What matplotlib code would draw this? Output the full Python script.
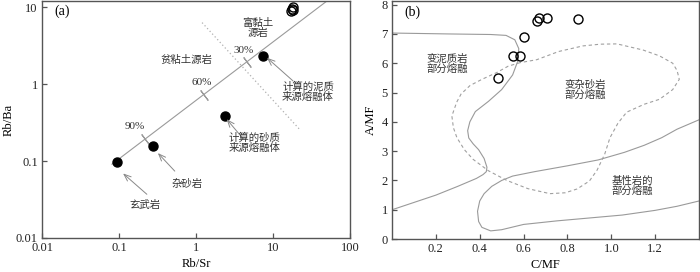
import matplotlib.pyplot as plt
import numpy as np

plt.rcParams['font.family'] = ['Liberation Serif', 'Noto Sans CJK SC']
plt.rcParams['axes.unicode_minus'] = False

# --- (a) Rb/Sr vs Rb/Ba ---
rbsr_fill = [0.094, 0.275, 2.35, 7.4]
rbba_fill = [0.098, 0.155, 0.38, 2.3]
rbsr_open = [17.2, 17.6, 18.0, 18.3]
rbba_open = [8.9, 9.5, 10.2, 9.2]

mix_x = [0.081, 50]
mix_y = [0.091, 12]
pct_x = [0.22, 1.27, 4.6]
pct_y = [0.195, 0.72, 1.95]
pct_lab = ['90%', '60%', '30%']
div_x = [1.2, 22]
div_y = [6.3, 0.26]

# --- (b) C/MF vs A/MF ---
cmf = [0.483, 0.552, 0.584, 0.602, 0.661, 0.67, 0.707, 0.848]
amf = [5.48, 6.25, 6.25, 6.89, 7.43, 7.53, 7.53, 7.5]

pel_x = [0.0, 0.25, 0.45, 0.52, 0.56, 0.578, 0.575, 0.55, 0.5, 0.44, 0.38, 0.355, 0.345,
         0.35, 0.37, 0.395, 0.42, 0.433, 0.43, 0.415, 0.385, 0.3, 0.2, 0.1, 0.0]
pel_y = [7.03, 7.0, 6.98, 6.95, 6.8, 6.5, 6.1, 5.6, 5.1, 4.7, 4.35, 4.0, 3.7,
         3.45, 3.25, 3.05, 2.75, 2.45, 2.3, 2.2, 2.07, 1.8, 1.5, 1.25, 1.0]

bas_x = [1.4, 1.3, 1.23, 1.15, 1.06, 0.94, 0.8, 0.65, 0.55, 0.5, 0.455, 0.42, 0.4, 0.39,
         0.395, 0.41, 0.45, 0.5, 0.6, 0.75, 0.9, 1.05, 1.2, 1.3, 1.4]
bas_y = [4.07, 3.75, 3.46, 3.2, 2.96, 2.7, 2.5, 2.3, 2.15, 2.0, 1.8, 1.55, 1.3, 0.95,
         0.6, 0.4, 0.28, 0.32, 0.5, 0.62, 0.72, 0.82, 0.98, 1.12, 1.3]

gw_x = [0.584, 0.53, 0.477, 0.41, 0.356, 0.315, 0.295, 0.273, 0.28, 0.296, 0.33, 0.37, 0.44,
        0.524, 0.62, 0.72, 0.79, 0.844, 0.9, 0.935, 0.97, 0.994, 1.03, 1.07, 1.15, 1.22,
        1.28, 1.31, 1.3, 1.28, 1.22, 1.145, 1.026, 0.95, 0.87, 0.76, 0.66, 0.584]
gw_y = [6.02, 5.9, 5.68, 5.45, 5.24, 4.95, 4.67, 4.2, 3.8, 3.46, 3.05, 2.72, 2.33,
        2.0, 1.72, 1.55, 1.58, 1.71, 1.98, 2.35, 2.9, 3.46, 3.95, 4.33, 4.6, 4.77,
        5.1, 5.45, 5.75, 6.0, 6.25, 6.45, 6.66, 6.65, 6.59, 6.4, 6.12, 6.02]

spine_c = '#555555'
line_c = '#9a9a9a'
txt_c = '#333333'
cjk = 7.5

fig = plt.figure(figsize=(7, 2.72), dpi=100)
ax1 = fig.add_axes([0.06, 0.125, 0.44, 0.871])
ax2 = fig.add_axes([0.56, 0.121, 0.4386, 0.875])

for ax in (ax1, ax2):
    for s in ax.spines.values():
        s.set_color(spine_c)
        s.set_linewidth(1.0)
    ax.tick_params(direction='in', length=3.5, width=0.9, color=spine_c,
                   labelsize=9, labelcolor='#222222', pad=3)
    ax.tick_params(which='minor', length=0)

#%% panel a
ax1.set_xscale('log')
ax1.set_yscale('log')
ax1.set_xlim(0.01, 100)
ax1.set_ylim(0.01, 12)
ax1.set_xticks([0.01, 0.1, 1, 10, 100])
ax1.set_xticklabels(['0.01', '0.1', '1', '10', '100'])
ax1.set_yticks([0.01, 0.1, 1, 10])
ax1.set_yticklabels(['0.01', '0.1', '1', '10'])
ax1.minorticks_off()

ax1.plot(mix_x, mix_y, color=line_c, lw=0.8)
ax1.plot(pct_x, pct_y, ls='none', marker=(2, 2, 37), ms=9, mec=line_c, mew=0.8)
ax1.plot(div_x, div_y, color='#b0b0b0', lw=0.9, ls=(0, (1, 2)))
ax1.plot(rbsr_fill, rbba_fill, 'o', color='k', ms=6.5)
ax1.plot(rbsr_open, rbba_open, 'o', mfc='none', mec='k', ms=6.5, mew=1.0, clip_on=False)

ax1.text(0.162, 0.28, pct_lab[0], fontsize=8, color=txt_c, ha='center', va='center')
ax1.text(1.2, 1.06, pct_lab[1], fontsize=8, color=txt_c, ha='center', va='center')
ax1.text(4.2, 2.7, pct_lab[2], fontsize=8, color=txt_c, ha='center', va='center')

ax1.text(6.4, 5.3, '富黏土\n源岩', fontsize=cjk, color=txt_c, ha='center', va='center', linespacing=1.0)
ax1.text(0.76, 2.07, '贫粘土源岩', fontsize=cjk, color=txt_c, ha='center', va='center')
ax1.text(0.76, 0.05, '杂砂岩', fontsize=cjk, color=txt_c, ha='center', va='center')
ax1.text(0.22, 0.027, '玄武岩', fontsize=cjk, color=txt_c, ha='center', va='center')

arr = dict(arrowstyle='->, head_length=0.5, head_width=0.2', color='#888888', lw=0.7,
           shrinkA=0, shrinkB=0)
ax1.annotate('', xy=(8.35, 2.2), xytext=(18.2, 1.1), arrowprops=arr)
ax1.text(28.5, 0.785, '计算的泥质\n来源熔融体', fontsize=cjk, color=txt_c, ha='center', va='center',
         linespacing=1.0)
ax1.annotate('', xy=(2.5, 0.35), xytext=(4.1, 0.195), arrowprops=arr)
ax1.text(5.8, 0.234, '计算的砂质\n来源熔融体', fontsize=cjk, color=txt_c, ha='center', va='top',
         linespacing=1.0)
ax1.annotate('', xy=(0.32, 0.127), xytext=(0.53, 0.074), arrowprops=arr)
ax1.annotate('', xy=(0.113, 0.069), xytext=(0.23, 0.037), arrowprops=arr)

ax1.text(0.04, 0.955, '(a)', transform=ax1.transAxes, fontsize=10, ha='left', va='center')
ax1.set_xlabel('Rb/Sr', fontsize=9, labelpad=3)
ax1.set_ylabel('Rb/Ba', fontsize=9, labelpad=1)

#%% panel b
ax2.set_xlim(0, 1.4)
ax2.set_ylim(0, 8.12)
ax2.set_xticks([0.2, 0.4, 0.6, 0.8, 1.0, 1.2])
ax2.set_xticklabels(['0.2', '0.4', '0.6', '0.8', '1.0', '1.2'])
ax2.set_yticks(range(9))

ax2.plot(pel_x, pel_y, color=line_c, lw=0.8)
ax2.plot(bas_x, bas_y, color=line_c, lw=0.8)
ax2.plot(gw_x, gw_y, color='#a0a0a0', lw=0.8, ls=(0, (3, 2.5)))
ax2.plot(cmf, amf, 'o', mfc='none', mec='k', ms=6.5, mew=1.0)

ax2.text(0.25, 5.98, '变泥质岩\n部分熔融', fontsize=cjk, color=txt_c, ha='center', va='center',
         linespacing=1.0)
ax2.text(0.88, 5.08, '变杂砂岩\n部分熔融', fontsize=cjk, color=txt_c, ha='center', va='center',
         linespacing=1.0)
ax2.text(1.094, 1.82, '基性岩的\n部分熔融', fontsize=cjk, color=txt_c, ha='center', va='center',
         linespacing=1.0)

ax2.text(0.04, 0.955, '(b)', transform=ax2.transAxes, fontsize=10, ha='left', va='center')
ax2.set_xlabel('C/MF', fontsize=9, labelpad=3)
ax2.set_ylabel('A/MF', fontsize=9, labelpad=3)

fig.savefig('out.png', dpi=100)
